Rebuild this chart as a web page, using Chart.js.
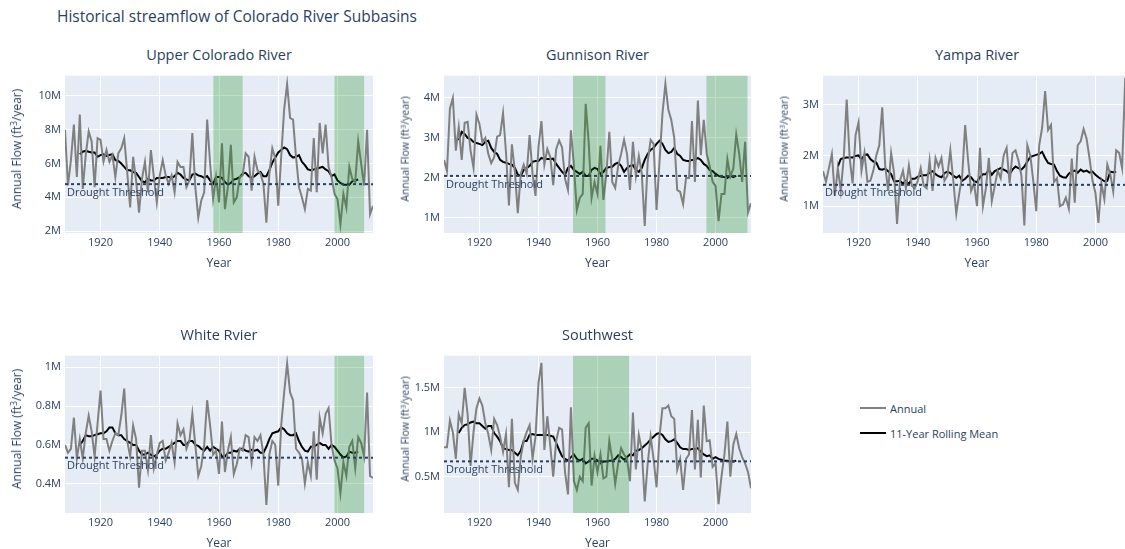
<!DOCTYPE html>
<html>
<head>
<meta charset="utf-8">
<script src="https://cdn.jsdelivr.net/npm/chart.js@4.4.0/dist/chart.umd.min.js"></script>
<style>
  html, body { margin:0; padding:0; background:#fff; width:1125px; height:549px; overflow:hidden; position:relative;
    font-family:"Open Sans", "DejaVu Sans", sans-serif; color:#2a3f5f; }
  canvas { position:absolute; }
  .t { position:absolute; white-space:nowrap; line-height:1; }
  .c { transform:translate(-50%,-50%); }
  .rot { transform:translate(-50%,-50%) rotate(-90deg); }
  sup { font-size:70%; vertical-align:0.45em; line-height:0; }
  .leg { position:absolute; height:2px; width:26px; }
</style>
</head>
<body>
<script>
// ---------------- DATA ----------------
const years = [
  1908,1909,1910,1911,1912,1913,1914,1915,1916,1917,
  1918,1919,1920,1921,1922,1923,1924,1925,1926,1927,
  1928,1929,1930,1931,1932,1933,1934,1935,1936,1937,
  1938,1939,1940,1941,1942,1943,1944,1945,1946,1947,
  1948,1949,1950,1951,1952,1953,1954,1955,1956,1957,
  1958,1959,1960,1961,1962,1963,1964,1965,1966,1967,
  1968,1969,1970,1971,1972,1973,1974,1975,1976,1977,
  1978,1979,1980,1981,1982,1983,1984,1985,1986,1987,
  1988,1989,1990,1991,1992,1993,1994,1995,1996,1997,
  1998,1999,2000,2001,2002,2003,2004,2005,2006,2007,
  2008,2009,2010,2011,2012
];
// 11-year centred rolling mean covers 1913..2007
const rollingYears = years.slice(5, 100);

// values in millions of ft3/year
const upperColoradoAnnual = [
  8.0,4.7,6.2,8.3,5.2,8.9,4.5,6.5,7.9,7.3,
  4.6,7.5,7.4,6.1,6.8,6.1,6.5,5.2,6.6,6.9,
  7.5,5.5,3.4,6.4,5.0,3.1,5.1,6.1,4.3,6.8,
  5.2,3.7,5.3,6.2,5.3,4.8,5.3,4.3,6.1,5.8,
  5.8,4.6,5.0,7.8,4.6,2.8,3.8,4.3,8.6,6.0,
  3.9,5.2,3.7,7.2,3.3,4.6,7.1,3.7,4.0,5.2,
  5.3,6.6,6.4,4.4,6.4,5.6,5.4,4.8,2.5,5.4,
  6.9,6.3,3.5,6.4,9.2,10.7,8.7,8.6,6.4,4.6,
  4.0,3.3,4.5,4.4,7.5,4.3,8.4,6.6,8.3,5.8,
  5.2,4.2,3.9,2.4,4.2,3.4,5.8,5.1,4.9,7.3,
  6.0,4.7,8.0,3.0,3.5
];
const upperColoradoRolling = [
  6.55,6.7,6.75,6.7,6.65,6.65,6.4,6.5,6.55,6.45,
  6.5,6.55,6.2,6.15,6.0,5.8,5.6,5.6,5.5,5.45,
  5.2,4.95,4.9,5.1,5.0,5.0,5.15,5.15,5.15,5.2,
  5.2,5.15,5.25,5.45,5.35,5.15,5.05,5.0,5.35,5.4,
  5.3,5.25,5.15,5.25,5.0,4.8,5.2,5.2,5.15,4.9,
  4.75,4.85,5.05,5.1,5.2,5.4,5.45,5.25,5.15,5.25,
  5.4,5.5,5.25,5.25,5.6,6.05,6.35,6.65,6.8,6.95,
  6.85,6.5,6.35,6.4,6.5,6.1,5.9,5.65,5.6,5.65,
  5.7,5.75,5.8,5.65,5.55,5.25,5.35,5.0,4.85,4.75,
  4.75,4.75,4.95,5.0,5.05
];

const gunnisonAnnual = [
  2.45,2.17,3.73,4.0,2.68,3.27,2.45,3.38,3.4,2.68,
  2.25,3.58,3.35,2.9,3.0,2.6,2.37,2.52,3.03,3.07,
  3.62,2.64,1.31,2.84,2.17,1.12,2.1,2.33,2.1,3.07,
  2.1,1.55,2.76,3.42,2.33,2.72,2.52,1.82,2.72,2.94,
  2.76,1.98,1.7,3.19,2.3,1.2,1.5,1.6,3.85,2.9,
  1.5,1.9,1.6,2.8,1.45,2.1,3.15,1.9,1.75,2.3,
  2.6,2.95,2.6,1.7,2.9,2.05,2.55,2.1,0.8,2.4,
  2.95,2.85,1.2,2.4,3.6,4.35,3.7,3.45,3.0,1.7,
  1.65,1.35,2.0,2.0,3.42,1.9,3.93,2.57,3.45,2.6,
  2.3,1.9,1.8,0.92,1.6,1.6,2.47,2.04,2.23,3.08,
  2.6,1.9,2.9,1.14,1.37
];
const gunnisonRolling = [
  2.94,3.15,3.1,3.0,2.97,2.9,2.87,2.85,2.82,2.9,
  2.93,2.75,2.65,2.6,2.45,2.4,2.38,2.35,2.33,2.25,
  2.08,2.05,2.2,2.25,2.3,2.4,2.42,2.42,2.5,2.47,
  2.47,2.47,2.48,2.35,2.25,2.15,2.08,2.25,2.3,2.2,
  2.15,2.1,2.15,2.05,2.05,2.2,2.25,2.22,2.1,2.15,
  2.25,2.27,2.28,2.35,2.38,2.3,2.15,2.25,2.3,2.32,
  2.2,2.15,2.25,2.45,2.6,2.7,2.75,2.85,2.93,2.85,
  2.7,2.62,2.65,2.75,2.6,2.55,2.45,2.43,2.42,2.45,
  2.45,2.5,2.45,2.35,2.3,2.2,2.17,2.1,2.05,2.03,
  2.02,2.0,2.05,2.02,2.05
];

const yampaAnnual = [
  1.69,1.48,1.75,2.03,1.2,1.75,1.3,1.95,3.1,1.95,
  1.45,2.4,2.65,1.7,2.05,1.48,1.5,1.7,2.0,2.2,
  2.95,1.8,1.3,2.05,1.65,0.65,1.5,1.7,1.35,1.8,
  1.4,1.35,1.5,1.75,1.4,1.35,1.9,1.3,1.95,1.78,
  1.95,1.5,1.6,2.1,1.5,0.85,1.25,1.6,2.6,1.9,
  1.3,1.45,1.0,2.15,1.0,1.35,1.95,1.1,1.4,1.7,
  1.55,2.0,2.15,1.45,2.05,2.1,1.9,1.6,0.62,2.2,
  2.0,1.5,0.9,2.2,2.55,3.27,2.5,2.6,1.48,1.55,
  1.0,1.03,1.17,0.95,1.94,1.07,2.2,2.28,2.52,2.33,
  1.94,1.5,1.26,0.67,1.45,1.14,1.82,1.63,1.29,2.1,
  2.05,1.75,3.45,3.3,1.2
];
const yampaRolling = [
  1.78,1.93,1.95,1.96,1.96,1.96,1.99,2.0,1.92,2.01,
  2.02,1.93,1.88,1.86,1.73,1.72,1.74,1.69,1.63,1.49,
  1.49,1.5,1.44,1.5,1.43,1.54,1.54,1.58,1.6,1.61,
  1.61,1.66,1.69,1.63,1.59,1.57,1.65,1.68,1.65,1.6,
  1.56,1.6,1.5,1.54,1.6,1.57,1.49,1.47,1.57,1.63,
  1.63,1.72,1.62,1.69,1.72,1.75,1.72,1.69,1.63,1.72,
  1.78,1.75,1.72,1.78,1.88,1.97,1.99,2.01,2.03,2.07,
  1.95,1.85,1.83,1.82,1.69,1.6,1.57,1.56,1.64,1.68,
  1.7,1.66,1.72,1.68,1.7,1.66,1.68,1.62,1.57,1.53,
  1.49,1.5,1.68,1.67,1.68
];

const whiteAnnual = [
  0.6,0.56,0.58,0.74,0.53,0.63,0.53,0.66,0.75,0.67,
  0.54,0.71,0.88,0.63,0.63,0.57,0.62,0.66,0.65,0.75,
  0.89,0.62,0.54,0.7,0.63,0.38,0.57,0.57,0.47,0.65,
  0.48,0.55,0.61,0.62,0.52,0.56,0.61,0.51,0.71,0.65,
  0.68,0.58,0.62,0.76,0.6,0.44,0.49,0.6,0.83,0.7,
  0.55,0.57,0.45,0.72,0.46,0.57,0.64,0.45,0.5,0.58,
  0.57,0.65,0.64,0.51,0.64,0.62,0.65,0.55,0.29,0.55,
  0.62,0.6,0.39,0.7,0.87,1.02,0.87,0.83,0.58,0.56,
  0.53,0.4,0.51,0.44,0.67,0.42,0.74,0.66,0.76,0.79,
  0.6,0.52,0.48,0.35,0.51,0.44,0.59,0.62,0.48,0.64,
  0.61,0.54,0.87,0.44,0.43
];
const whiteRolling = [
  0.6,0.62,0.65,0.645,0.645,0.65,0.655,0.66,0.66,0.67,
  0.69,0.69,0.66,0.65,0.65,0.63,0.62,0.61,0.6,0.6,
  0.57,0.55,0.55,0.56,0.55,0.54,0.55,0.57,0.58,0.58,
  0.59,0.6,0.61,0.62,0.62,0.6,0.6,0.62,0.62,0.6,
  0.595,0.58,0.57,0.59,0.57,0.59,0.58,0.57,0.54,0.54,
  0.56,0.56,0.57,0.565,0.58,0.58,0.57,0.565,0.575,0.57,
  0.575,0.56,0.56,0.59,0.63,0.66,0.665,0.67,0.69,0.68,
  0.66,0.65,0.65,0.66,0.62,0.59,0.57,0.565,0.59,0.59,
  0.6,0.61,0.6,0.6,0.58,0.6,0.59,0.57,0.55,0.535,
  0.54,0.565,0.56,0.56,0.565
];

const southwestAnnual = [
  0.83,0.83,1.13,1.0,0.7,1.2,1.1,1.5,1.2,0.62,
  1.0,1.27,1.38,1.3,1.1,0.98,0.8,1.15,1.08,0.95,
  0.78,0.98,0.38,1.15,0.43,0.35,0.72,0.9,1.0,1.08,
  0.7,0.95,1.55,1.78,0.8,1.18,0.85,0.5,0.9,1.05,
  1.03,0.55,0.3,1.28,0.45,0.35,0.5,0.45,1.05,1.1,
  0.4,0.73,0.55,0.75,0.48,0.5,0.9,0.7,0.42,0.65,
  0.82,0.75,0.7,0.45,1.22,0.58,0.97,0.8,0.22,0.65,
  0.95,0.7,0.38,0.95,1.27,1.27,1.3,1.18,1.15,0.58,
  0.7,0.35,0.7,0.75,1.25,0.58,1.14,0.49,1.3,0.9,
  0.91,0.61,0.65,0.19,0.5,0.75,1.12,0.5,0.86,0.98,
  0.82,0.72,0.65,0.55,0.37
];
const southwestRolling = [
  0.99,1.05,1.08,1.09,1.11,1.12,1.1,1.1,1.07,1.04,
  1.07,1.07,0.99,0.95,0.9,0.82,0.81,0.8,0.8,0.77,
  0.74,0.79,0.9,0.9,0.97,0.98,0.97,0.97,0.97,0.97,
  0.97,0.96,0.95,0.88,0.8,0.73,0.7,0.68,0.72,0.75,
  0.7,0.68,0.7,0.65,0.67,0.7,0.7,0.68,0.65,0.67,
  0.67,0.68,0.68,0.7,0.74,0.72,0.69,0.72,0.75,0.74,
  0.79,0.8,0.82,0.85,0.88,0.92,0.95,0.98,0.99,0.97,
  0.92,0.89,0.9,0.92,0.88,0.83,0.81,0.81,0.8,0.81,
  0.81,0.82,0.78,0.75,0.73,0.74,0.7,0.72,0.7,0.69,
  0.68,0.68,0.67,0.67,0.68
];

const yearTicks = [1920, 1940, 1960, 1980, 2000];
const upperColoradoTicks = [2, 4, 6, 8, 10];
const gunnisonTicks = [1, 2, 3, 4];
const yampaTicks = [1, 2, 3];
const whiteTicks = [0.4, 0.6, 0.8, 1];
const southwestTicks = [0.5, 1, 1.5];

const droughtThresholds = { upperColorado: 4.78, gunnison: 2.05, yampa: 1.42, white: 0.534, southwest: 0.672 };
const droughtPeriods = {
  upperColorado: [[1958.1, 1968.0], [1999.0, 2009.0]],
  gunnison: [[1951.7, 1962.7], [1996.9, 2010.8]],
  yampa: [],
  white: [[1999.0, 2009.0]],
  southwest: [[1951.7, 1970.7]]
};

const subplotTitles = ["Upper Colorado River", "Gunnison River", "Yampa River", "White Rvier", "Southwest"];

// ---------------- DRAWING ----------------
const TXT = '#2a3f5f';
Chart.defaults.font.family = "'Open Sans', 'DejaVu Sans', sans-serif";
Chart.defaults.color = TXT;

function addText(html, x, y, size, cls) {
  const d = document.createElement('div');
  d.className = 't ' + cls;
  d.style.left = x + 'px';
  d.style.top = y + 'px';
  d.style.fontSize = size + 'px';
  d.innerHTML = html;
  document.body.appendChild(d);
  return d;
}

addText('Historical streamflow of Colorado River Subbasins', 57, 17, 15.5, '').style.transform = 'translateY(-50%)';

function panel(p) {
  const padL = 52, padB = 26;
  const cv = document.createElement('canvas');
  const w = padL + p.w, h = p.h + padB;
  cv.width = w; cv.height = h;
  cv.style.width = w + 'px'; cv.style.height = h + 'px';
  cv.style.left = (p.left - padL) + 'px';
  cv.style.top = p.top + 'px';
  document.body.appendChild(cv);

  const bg = {
    id: 'bg',
    beforeDraw(chart) {
      const a = chart.chartArea, ctx = chart.ctx;
      ctx.save();
      ctx.fillStyle = '#E5ECF6';
      ctx.fillRect(a.left, a.top, a.right - a.left, a.bottom - a.top);
      ctx.restore();
    }
  };
  const overlay = {
    id: 'overlay',
    afterDatasetsDraw(chart) {
      const a = chart.chartArea, ctx = chart.ctx, xs = chart.scales.x, ys = chart.scales.y;
      ctx.save();
      ctx.beginPath();
      ctx.rect(a.left, a.top, a.right - a.left, a.bottom - a.top);
      ctx.clip();
      ctx.fillStyle = 'rgba(0,128,0,0.25)';
      for (const [s, e] of p.bands) {
        const x0 = xs.getPixelForValue(s), x1 = xs.getPixelForValue(e);
        ctx.fillRect(x0, a.top, x1 - x0, a.bottom - a.top);
      }
      const ty = ys.getPixelForValue(p.threshold);
      ctx.strokeStyle = '#2a3f5f';
      ctx.lineWidth = 2;
      ctx.setLineDash([3, 3]);
      ctx.beginPath();
      ctx.moveTo(a.left, ty);
      ctx.lineTo(a.right, ty);
      ctx.stroke();
      ctx.setLineDash([]);
      ctx.fillStyle = '#2a3f5f';
      ctx.font = "11px 'Open Sans'";
      ctx.textAlign = 'left';
      ctx.textBaseline = 'middle';
      ctx.fillText('Drought Threshold', a.left + 2, ty + 8.5);
      ctx.restore();
    }
  };

  new Chart(cv, {
    type: 'line',
    data: {
      datasets: [
        { label: 'Annual', data: years.map((x, i) => ({ x, y: p.annual[i] })),
          borderColor: '#808080', borderWidth: 2, pointRadius: 0, tension: 0, fill: false, clip: 0 },
        { label: '11-Year Rolling Mean', data: rollingYears.map((x, i) => ({ x, y: p.rolling[i] })),
          borderColor: '#000000', borderWidth: 2, pointRadius: 0, tension: 0, fill: false, clip: 0 }
      ]
    },
    options: {
      responsive: false, animation: false, devicePixelRatio: 1,
      layout: { padding: 0, autoPadding: false },
      plugins: { legend: { display: false }, tooltip: { enabled: false }, title: { display: false } },
      scales: {
        x: {
          type: 'linear', min: 1908, max: 2012,
          afterBuildTicks: ax => { ax.ticks = yearTicks.map(v => ({ value: v })); },
          afterFit: ax => { ax.height = padB; },
          grid: { color: '#ffffff', lineWidth: 1, drawTicks: false },
          border: { display: false },
          ticks: { padding: 3, maxRotation: 0, autoSkip: false, color: TXT, font: { size: 11 }, callback: v => String(v) }
        },
        y: {
          type: 'linear', min: p.ymin, max: p.ymax,
          afterBuildTicks: ax => { ax.ticks = p.ticks.map(v => ({ value: v })); },
          afterFit: ax => { ax.width = padL; },
          grid: { color: '#ffffff', lineWidth: 1, drawTicks: false },
          border: { display: false },
          ticks: { padding: 4, autoSkip: false, color: TXT, font: { size: 11 }, callback: v => v + 'M' }
        }
      }
    },
    plugins: [bg, overlay]
  });

  const cx = p.left + p.w / 2;
  addText(p.title, cx, p.top - 10, 14.5, 'c');
  addText('Year', cx, p.top + p.h + 30, 12, 'c');
  addText('Annual Flow (ft<sup>3</sup>/year)', p.yTitleX, p.top + p.h / 2, p.yTitleSize, 'rot');
}

panel({ title: subplotTitles[0], left: 65, top: 65, w: 308, h: 168, ymin: 1.89, ymax: 11.2,
  ticks: upperColoradoTicks, annual: upperColoradoAnnual, rolling: upperColoradoRolling,
  threshold: droughtThresholds.upperColorado, bands: droughtPeriods.upperColorado, yTitleX: 17, yTitleSize: 12 });
panel({ title: subplotTitles[1], left: 444, top: 65, w: 307, h: 168, ymin: 0.625, ymax: 4.555,
  ticks: gunnisonTicks, annual: gunnisonAnnual, rolling: gunnisonRolling,
  threshold: droughtThresholds.gunnison, bands: droughtPeriods.gunnison, yTitleX: 405, yTitleSize: 10.5 });
panel({ title: subplotTitles[2], left: 823, top: 65, w: 308, h: 168, ymin: 0.47, ymax: 3.574,
  ticks: yampaTicks, annual: yampaAnnual, rolling: yampaRolling,
  threshold: droughtThresholds.yampa, bands: droughtPeriods.yampa, yTitleX: 784, yTitleSize: 10.5 });
panel({ title: subplotTitles[3], left: 65, top: 345, w: 308, h: 168, ymin: 0.249, ymax: 1.06,
  ticks: whiteTicks, annual: whiteAnnual, rolling: whiteRolling,
  threshold: droughtThresholds.white, bands: droughtPeriods.white, yTitleX: 17, yTitleSize: 12 });
panel({ title: subplotTitles[4], left: 444, top: 345, w: 307, h: 168, ymin: 0.091, ymax: 1.862,
  ticks: southwestTicks, annual: southwestAnnual, rolling: southwestRolling,
  threshold: droughtThresholds.southwest, bands: droughtPeriods.southwest, yTitleX: 405, yTitleSize: 10.5 });

// legend
function legendItem(color, label, y) {
  const l = document.createElement('div');
  l.className = 'leg';
  l.style.left = '860px'; l.style.top = (y - 1) + 'px'; l.style.background = color;
  document.body.appendChild(l);
  addText(label, 890, y, 11, '').style.transform = 'translateY(-50%)';
}
legendItem('#808080', 'Annual', 408);
legendItem('#000000', '11-Year Rolling Mean', 433);
</script>
</body>
</html>
